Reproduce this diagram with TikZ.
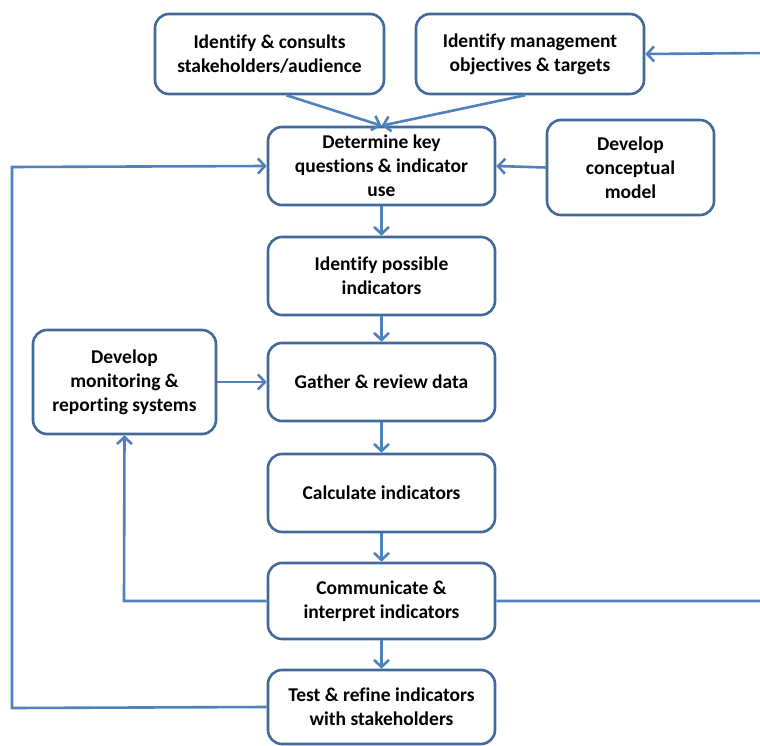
\documentclass[tikz,border=0pt]{standalone}
\usepackage{fontspec}
\setmainfont{Carlito}[Ligatures=NoCommon]
\usetikzlibrary{arrows.meta}
\definecolor{boxc}{HTML}{41699A}
\definecolor{linec}{HTML}{4F81BD}
\begin{document}
\begin{tikzpicture}[x=1pt,y=-1pt,
 box/.style={draw=boxc, line width=2.6pt, rounded corners=14pt, fill=white, align=center,
   font=\fontsize{19.5}{24}\selectfont\bfseries, inner sep=0pt},
 conn/.style={draw=linec, line width=2.6pt, -{Straight Barb[length=7pt,width=15pt,line width=2.6pt]}}]
\useasboundingbox (0,0) rectangle (760,746);
\node[box, minimum width=229pt, minimum height=80pt] (a) at (269.5,54) {Identify \& consults\\stakeholders/audience};
\node[box, minimum width=228pt, minimum height=80pt] (b) at (530,54) {Identify management\\objectives \& targets};
\node[box, minimum width=227pt, minimum height=78pt] (c) at (381.5,166) {Determine key\\questions \& indicator\\use};
\node[box, minimum width=167pt, minimum height=95pt] (d) at (630.5,167.5) {Develop\\conceptual\\model};
\node[box, minimum width=227pt, minimum height=78pt] (e) at (381.5,276) {Identify possible\\indicators};
\node[box, minimum width=227pt, minimum height=78pt] (f) at (381.5,382) {Gather \& review data};
\node[box, minimum width=183pt, minimum height=104pt] (g) at (124.5,382) {Develop\\monitoring \&\\reporting systems};
\node[box, minimum width=227pt, minimum height=78pt] (h) at (381.5,493) {Calculate indicators};
\node[box, minimum width=227pt, minimum height=76pt] (i) at (381.5,601) {Communicate \&\\interpret indicators};
\node[box, minimum width=227pt, minimum height=74pt] (j) at (381.5,707) {Test \& refine indicators\\with stakeholders};
\coordinate (rt) at (768,601);
\coordinate (rtop) at (768,53);
\coordinate (lt) at (12,708);
\coordinate (ltop) at (12,167);
\coordinate (gl) at (124,601);
\draw[conn] ([xshift=17pt]a.south) -- (c.north);
\draw[conn] ([xshift=-5pt]b.south) -- (c.north);
\draw[conn] (d.west) -- (c.east);
\draw[conn] (c) -- (e);
\draw[conn] (e) -- (f);
\draw[conn] (f) -- (h);
\draw[conn] (h) -- (i);
\draw[conn] (i) -- (j);
\draw[conn] (g.east) -- (f.west);
\draw[conn] (i.west) -- (gl) -- (g.south);
\draw[conn] (i.east) -- (rt) -- (rtop) -- (b.east);
\draw[conn] (j.west) -- (lt) -- (ltop) -- (c.west);
\end{tikzpicture}
\end{document}
